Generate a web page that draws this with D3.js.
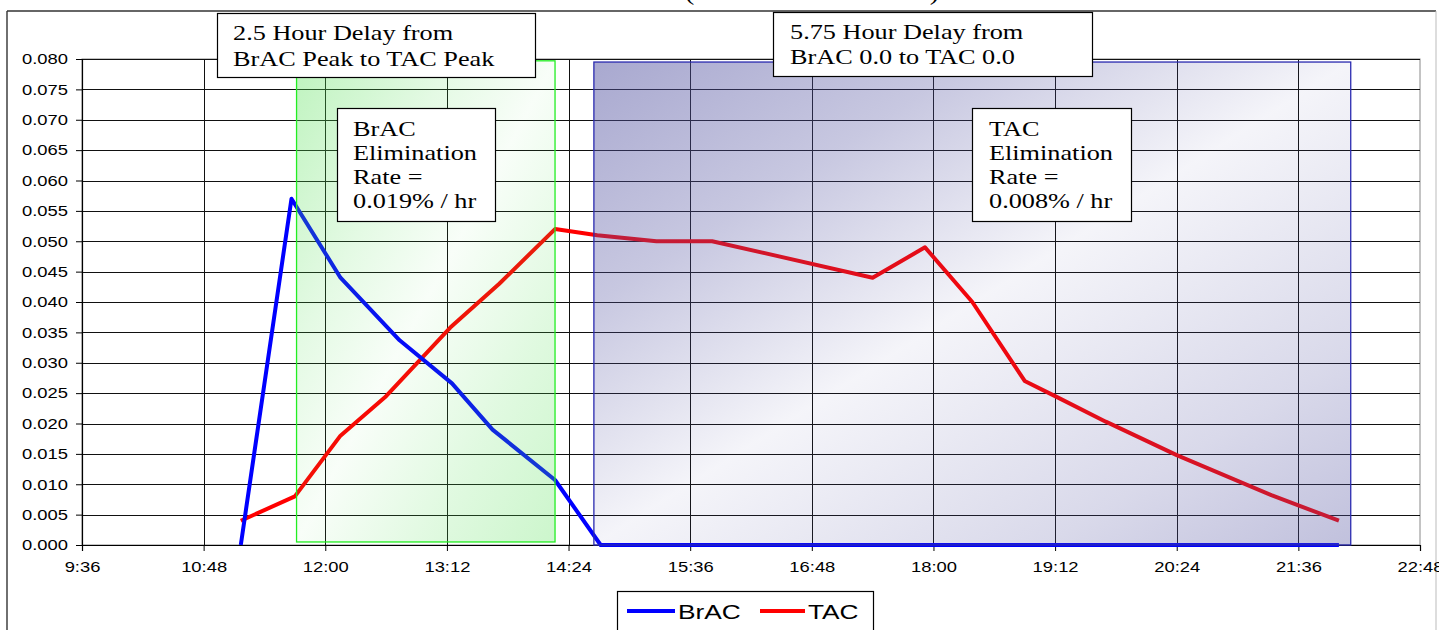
<!DOCTYPE html>
<html>
<head>
<meta charset="utf-8">
<script src="https://cdn.jsdelivr.net/npm/d3@7"></script>
<style>
  html, body { margin: 0; padding: 0; background: #fff; }
  svg { display: block; }
</style>
</head>
<body>
<svg id="chart" width="1439" height="630"></svg>
<script>
// ---------------- data ----------------
const xTickLabels = ["9:36","10:48","12:00","13:12","14:24","15:36","16:48","18:00","19:12","20:24","21:36","22:48"];
const yTickValues = [0,0.005,0.010,0.015,0.020,0.025,0.030,0.035,0.040,0.045,0.050,0.055,0.060,0.065,0.070,0.075,0.080];

const bracTimes  = ["11:10","11:40","12:09","12:44","13:15","13:39","14:16","14:43","22:00"];
const bracValues = [0.000, 0.057, 0.044, 0.0337, 0.0266, 0.019, 0.0107, 0.000, 0.000];

const tacTimes  = ["11:10","11:42","12:09","12:36","13:14","13:43","14:16","14:41","15:16","15:49","17:24","17:55","18:23","18:54","19:12","19:42","20:24","21:20","22:00"];
const tacValues = [0.004, 0.008, 0.018, 0.0245, 0.0358, 0.043, 0.052, 0.051, 0.050, 0.050, 0.044, 0.049, 0.040, 0.027, 0.0245, 0.0203, 0.0148, 0.0082, 0.004];

const seriesNames = ["BrAC","TAC"];

// shaded annotation spans (data units)
const greenSpan = {from:"11:43", to:"14:16", lo:0.0005, hi:0.0797};
const blueSpan  = {from:"14:39", to:"22:07", lo:0.0000, hi:0.0795};

const titleText = "(Transdermal Alcohol)";
const noteDelayPeak = ["2.5 Hour Delay from","BrAC Peak to TAC Peak"];
const noteDelayZero = ["5.75 Hour Delay from","BrAC 0.0 to TAC 0.0"];
const noteBrac = ["BrAC","Elimination","Rate =","0.019% / hr"];
const noteTac  = ["TAC","Elimination","Rate =","0.008% / hr"];

// ---------------- layout ----------------
const SX = 1.25; // horizontal stretch of the original picture
const SANS = "'Liberation Sans', Arial, sans-serif";
const SERIF = "'Liberation Serif', 'Times New Roman', serif";
const plot = {left:82, right:1420, top:59, bottom:545};

const parse = d3.timeParse("%H:%M");
const svg = d3.select("#chart");

function stretch(sel, k){
  sel.each(function(){
    const L = this.getComputedTextLength();
    d3.select(this).attr("textLength", L*k).attr("lengthAdjust","spacingAndGlyphs");
  });
}

const x = d3.scaleTime()
  .domain([parse(xTickLabels[0]), parse(xTickLabels[xTickLabels.length-1])])
  .range([plot.left, plot.right]);
const y = d3.scaleLinear().domain([0, 0.08]).range([plot.bottom, plot.top]);

// outer chart frame
svg.append("line").attr("x1",7).attr("x2",1436).attr("y1",11).attr("y2",11)
  .attr("stroke","#333").attr("stroke-width",1.6);
svg.append("line").attr("x1",7).attr("x2",7).attr("y1",11).attr("y2",630)
  .attr("stroke","#333").attr("stroke-width",1.4);
svg.append("line").attr("x1",1436).attr("x2",1436).attr("y1",11).attr("y2",630)
  .attr("stroke","#bbb").attr("stroke-width",1);

// title (mostly cropped above the picture, as in the reference)
const title = svg.append("text").attr("x",685).attr("y",0)
  .attr("font-family",SERIF).attr("font-size",24)
  .attr("fill","#000").text(titleText);
title.attr("textLength",254).attr("lengthAdjust","spacingAndGlyphs");

// plot area border
svg.append("rect").attr("x",plot.left).attr("y",plot.top)
  .attr("width",plot.right-plot.left).attr("height",plot.bottom-plot.top)
  .attr("fill","#fff").attr("stroke","#888").attr("stroke-width",1);

// gridlines
const xTickDates = xTickLabels.map(parse);
svg.append("g").selectAll("line").data(yTickValues.filter(v=>v>0)).join("line")
  .attr("x1",plot.left).attr("x2",plot.right)
  .attr("y1",d=>Math.round(y(d))+0.5).attr("y2",d=>Math.round(y(d))+0.5)
  .attr("stroke","#111").attr("stroke-width",1);
svg.append("g").selectAll("line").data(xTickDates.slice(1,-1)).join("line")
  .attr("x1",d=>Math.round(x(d))+0.5).attr("x2",d=>Math.round(x(d))+0.5)
  .attr("y1",plot.top).attr("y2",plot.bottom)
  .attr("stroke","#111").attr("stroke-width",1);

// axes
const yAxis = svg.append("g").attr("transform",`translate(${plot.left},0)`)
  .call(d3.axisLeft(y).tickValues(yTickValues).tickFormat(d3.format(".3f")).tickSize(6).tickPadding(8));
const xAxis = svg.append("g").attr("transform",`translate(0,${plot.bottom})`)
  .call(d3.axisBottom(x).tickValues(xTickDates).tickFormat(d3.timeFormat("%-H:%M")).tickSize(6).tickPadding(10));
[yAxis,xAxis].forEach(a=>{
  a.selectAll(".domain").attr("stroke","#000").attr("stroke-width",1.2);
  a.selectAll(".tick line").attr("stroke","#000");
  a.selectAll("text").attr("font-family",SANS).attr("font-size",15).attr("fill","#000");
  stretch(a.selectAll("text"), SX*0.98);
});

// series lines
const line = d3.line().x(d=>x(d.t)).y(d=>y(d.v));
const bracData = bracTimes.map((t,i)=>({t:parse(t), v:bracValues[i]}));
const tacData  = tacTimes.map((t,i)=>({t:parse(t), v:tacValues[i]}));
svg.append("path").datum(tacData).attr("d",line)
  .attr("fill","none").attr("stroke","#ff0000").attr("stroke-width",4).attr("stroke-linejoin","round");
svg.append("path").datum(bracData).attr("d",line)
  .attr("fill","none").attr("stroke","#0000ff").attr("stroke-width",4).attr("stroke-linejoin","round");

// gradients for the translucent overlays
const defs = svg.append("defs");
function grad(id, color, stops){
  const g = defs.append("linearGradient").attr("id",id)
    .attr("x1",0).attr("y1",0).attr("x2",1).attr("y2",1);
  stops.forEach(([o,a])=>g.append("stop").attr("offset",o).attr("stop-color",color).attr("stop-opacity",a));
}
grad("gGreen","#55e055",[[0,0.38],[0.3,0.16],[0.5,0.04],[0.75,0.18],[1,0.3]]);
grad("gBlue","#5252a0",[[0,0.5],[0.25,0.32],[0.5,0.06],[0.8,0.22],[1,0.36]]);

function span(s, fillId, strokeCol){
  svg.append("rect")
    .attr("x",x(parse(s.from))).attr("y",y(s.hi))
    .attr("width",x(parse(s.to))-x(parse(s.from))).attr("height",y(s.lo)-y(s.hi))
    .attr("fill",`url(#${fillId})`).attr("stroke",strokeCol).attr("stroke-width",1.3);
}
span(greenSpan,"gGreen","#22ee22");
span(blueSpan,"gBlue","#2a2ab0");

// text boxes
function note(lines, bx, by, bw, bh, tx, ty0, lh){
  svg.append("rect").attr("x",bx).attr("y",by).attr("width",bw).attr("height",bh)
    .attr("fill","#fff").attr("stroke","#000").attr("stroke-width",1.2);
  const t = svg.append("g").selectAll("text").data(lines).join("text")
    .attr("x",tx).attr("y",(d,i)=>ty0+i*lh)
    .attr("font-family",SERIF).attr("font-size",21).attr("fill","#000").text(d=>d);
  stretch(t, SX);
}
note(noteDelayPeak, 217.5, 13.5, 318, 64, 233, 40, 26);
note(noteDelayZero, 773.5, 12.5, 319, 64, 790, 39, 25);
note(noteBrac, 337.5, 108.5, 158, 113, 353, 136, 24);
note(noteTac, 972.5, 108.5, 159, 113, 989, 136, 24);

// legend
const lg = svg.append("g");
lg.append("rect").attr("x",617.5).attr("y",591.5).attr("width",256).attr("height",50)
  .attr("fill","#fff").attr("stroke","#000").attr("stroke-width",1.2);
const legendItems = [
  {name:seriesNames[0], color:"#0000ff", x0:627, x1:675, tx:678},
  {name:seriesNames[1], color:"#ff0000", x0:760, x1:805, tx:808}
];
legendItems.forEach(it=>{
  lg.append("line").attr("x1",it.x0).attr("x2",it.x1).attr("y1",611).attr("y2",611)
    .attr("stroke",it.color).attr("stroke-width",4);
  const t = lg.append("text").attr("x",it.tx).attr("y",619)
    .attr("font-family",SANS).attr("font-size",21).attr("fill","#000").text(it.name);
  stretch(t, SX);
});
</script>
</body>
</html>
